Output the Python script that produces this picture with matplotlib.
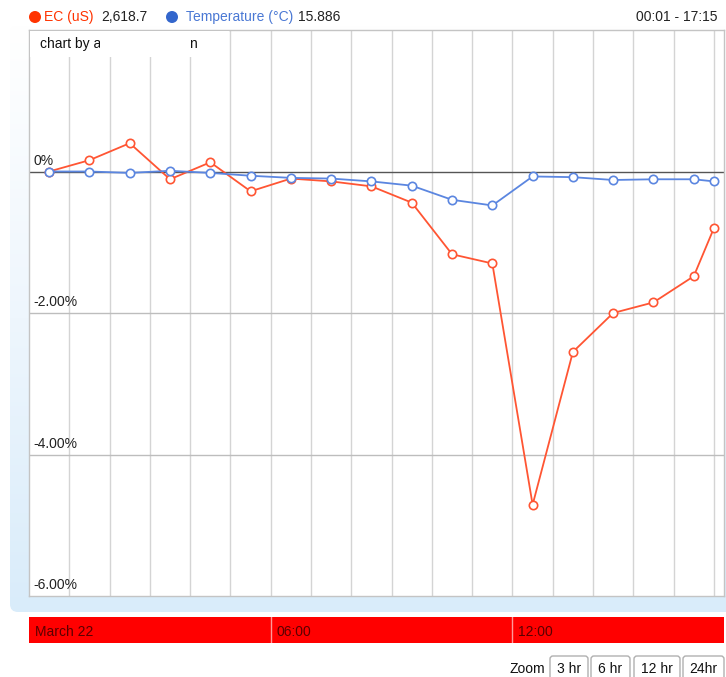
import numpy as np
import matplotlib
matplotlib.use("Agg")
import matplotlib.pyplot as plt
from matplotlib.patches import Rectangle, FancyBboxPatch, Circle
from matplotlib.colors import LinearSegmentedColormap

plt.rcParams['font.family'] = ['Liberation Sans', 'DejaVu Sans']

# hourly points (plotted at half hour), last one at 17:00
horas = [0.5, 1.5, 2.5, 3.5, 4.5, 5.5, 6.5, 7.5, 8.5, 9.5, 10.5, 11.5,
         12.5, 13.5, 14.5, 15.5, 16.5, 17.0]
ec_pct = [0.0, 0.16, 0.40, -0.11, 0.13, -0.28, -0.10, -0.14, -0.21, -0.44,
          -1.17, -1.30, -4.71, -2.55, -2.00, -1.85, -1.48, -0.80]
temp_pct = [0.0, 0.0, -0.02, 0.01, -0.02, -0.06, -0.09, -0.10, -0.14, -0.20,
            -0.40, -0.48, -0.07, -0.08, -0.12, -0.11, -0.11, -0.14]

y_ticks = [0, -2, -4, -6]
y_labels = ['0%', '-2.00%', '-4.00%', '-6.00%']
band_ticks = [0, 6, 12]
band_labels = ['March 22', '06:00', '12:00']
botoes = ['3 hr', '6 hr', '12 hr', '24hr']

cor_ec = '#ff5533'
cor_temp = '#5b86e0'
fs = 10

W, H = 726, 677
fig = plt.figure(figsize=(W / 100, H / 100), dpi=100)

def fx(px):
    return px / W

def fy(py):
    return 1 - py / H

# --- fundo azul claro com degradê ---
bg = fig.add_axes([0, 0, 1, 1], zorder=0)
bg.set_xlim(0, W)
bg.set_ylim(H, 0)
bg.axis('off')
grad = np.linspace(0, 1, 256).reshape(-1, 1)
cmap = LinearSegmentedColormap.from_list('g', ['#ffffff', '#eef6fd', '#d9ecfa'])
painel = FancyBboxPatch((10, 25), 730, 587, boxstyle='round,pad=0,rounding_size=8',
                        fc='none', ec='none')
bg.add_patch(painel)
im = bg.imshow(grad, extent=(10, 740, 612, 25), aspect='auto', cmap=cmap,
               interpolation='bilinear', zorder=0)
im.set_clip_path(painel)

# --- área do gráfico ---
ax = fig.add_axes([fx(29), fy(596), fx(724 - 29), (596 - 30) / H], zorder=2)
ax.set_facecolor('white')
ax.set_xlim(0, 17.25)
ax.set_ylim(-6, 2)

for h in range(1, 18):
    ax.axvline(h, color='#d4d4d4', lw=1, zorder=1)
for v in [-2, -4]:
    ax.axhline(v, color='#bdbdbd', lw=1, zorder=1)
ax.axhline(0, color='#555555', lw=1, zorder=2)

ax.plot(horas, ec_pct, color=cor_ec, lw=1.3, marker='o', ms=6,
        mfc='white', mec=cor_ec, mew=1.2, zorder=4)
ax.plot(horas, temp_pct, color=cor_temp, lw=1.3, marker='o', ms=6,
        mfc='white', mec=cor_temp, mew=1.2, zorder=5)

for v, lab in zip(y_ticks, y_labels):
    ax.text(0.11, v + 0.05, lab, fontsize=fs, color='#222222',
            ha='left', va='bottom', zorder=6)

ax.set_xticks([])
ax.set_yticks([])
for s in ax.spines.values():
    s.set_color('#c4c4c4')
    s.set_linewidth(1)

# caixa "chart by"
ax.add_patch(Rectangle((0.02, 1.62), 4.95, 0.37, fc='white', ec='none', zorder=7))
ax.text(0.28, 1.8, 'chart by a', fontsize=fs, color='#111111', va='center', zorder=8)
ax.add_patch(Rectangle((1.75, 1.62), 2.35, 0.37, fc='white', ec='none', zorder=9))
ax.text(3.98, 1.8, 'n', fontsize=fs, color='#111111', va='center', zorder=10)

# --- legenda do topo ---
bg.add_patch(Circle((35, 17), 6, fc='#ff3300', ec='none'))
bg.add_patch(Circle((172, 17), 6, fc='#3366cc', ec='none'))
fig.text(fx(44), fy(17), 'EC (uS)', color='#ff3300', fontsize=fs, va='center')
fig.text(fx(101), fy(17), '2,618.7', color='#222222', fontsize=fs, va='center')
fig.text(fx(186), fy(17), 'Temperature (\u00b0C)', color='#4a78d4', fontsize=fs, va='center')
fig.text(fx(298), fy(17), '15.886', color='#222222', fontsize=fs, va='center')
fig.text(fx(718), fy(17), '00:01 - 17:15', color='#222222', fontsize=fs,
         ha='right', va='center')

# --- faixa vermelha de tempo ---
band = fig.add_axes([fx(29), fy(643), fx(724 - 29), (643 - 617) / H], zorder=2)
band.set_xlim(0, 17.25)
band.set_ylim(0, 1)
band.set_facecolor('#ff0000')
for s in band.spines.values():
    s.set_visible(False)
band.set_xticks([])
band.set_yticks([])
for t, lab in zip(band_ticks, band_labels):
    if t > 0:
        band.axvline(t, color='#ff9a9a', lw=1)
    band.text(t + 0.14, 0.42, lab, fontsize=fs, color='#5a0000', va='center')

# --- botões de zoom ---
fig.text(fx(510), fy(669), 'Zoom', fontsize=fs, color='#111111', va='center')
bx = [550, 591, 634, 683]
bw = [38, 39, 46, 41]
for x0, w, lab in zip(bx, bw, botoes):
    bg.add_patch(FancyBboxPatch((x0, 656), w, 24, boxstyle='round,pad=0,rounding_size=3',
                                fc='white', ec='#b0b0b0', lw=1))
    bg.text(x0 + w / 2, 669, lab, fontsize=fs, color='#111111', ha='center', va='center')

fig.savefig('out.png', dpi=100)
